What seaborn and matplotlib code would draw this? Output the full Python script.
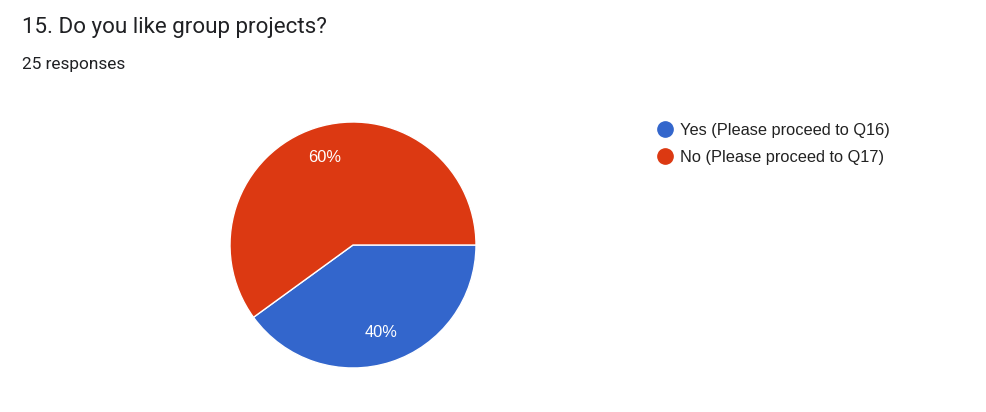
import matplotlib
matplotlib.use("Agg")
import matplotlib.pyplot as plt
from matplotlib.lines import Line2D
import seaborn as sns

# Data
categories = ["Yes (Please proceed to Q16)", "No (Please proceed to Q17)"]
shares = [40, 60]
title = "15. Do you like group projects?"
subtitle = "25 responses"

colors = ["#3366cc", "#dc3912"]

sns.set_theme(style="white")
plt.rcParams["font.family"] = ["Liberation Sans", "DejaVu Sans"]

fig = plt.figure(figsize=(9.87, 4.12), dpi=100)
fig.patch.set_facecolor("white")

W, H = 987, 412
cx, cy, r = 353, 245, 123
ax = fig.add_axes([(cx - r) / W, (H - cy - r) / H, 2 * r / W, 2 * r / H])

wedges, texts, autotexts = ax.pie(
    shares, colors=colors, startangle=0, counterclock=False,
    autopct=lambda p: f"{p:.0f}%", pctdistance=0.75,
    wedgeprops=dict(edgecolor="white", linewidth=1),
    textprops=dict(color="white", fontsize=11.8),
)
ax.set_xlim(-1, 1)
ax.set_ylim(-1, 1)
ax.set_aspect("equal")
ax.axis("off")

fig.text(22 / W, 1 - 28 / H, title, fontsize=16.1, color="#202124",
         va="center", ha="left", family=["Roboto", "DejaVu Sans"])
fig.text(22 / W, 1 - 64 / H, subtitle, fontsize=12.4, color="#202124",
         va="center", ha="left", family=["Roboto", "DejaVu Sans"])

handles = [Line2D([0], [0], marker="o", linestyle="", markersize=11,
                  markerfacecolor=c, markeredgecolor=c) for c in colors]
leg = fig.legend(handles, categories, loc="upper left",
                 bbox_to_anchor=(655 / W, 1 - 123 / H), frameon=False,
                 fontsize=11.8, handletextpad=0.3, labelspacing=0.72,
                 borderaxespad=0, borderpad=0, handlelength=1.2)
for t in leg.get_texts():
    t.set_color("#222222")

fig.savefig("out.png", dpi=100, facecolor="white")
